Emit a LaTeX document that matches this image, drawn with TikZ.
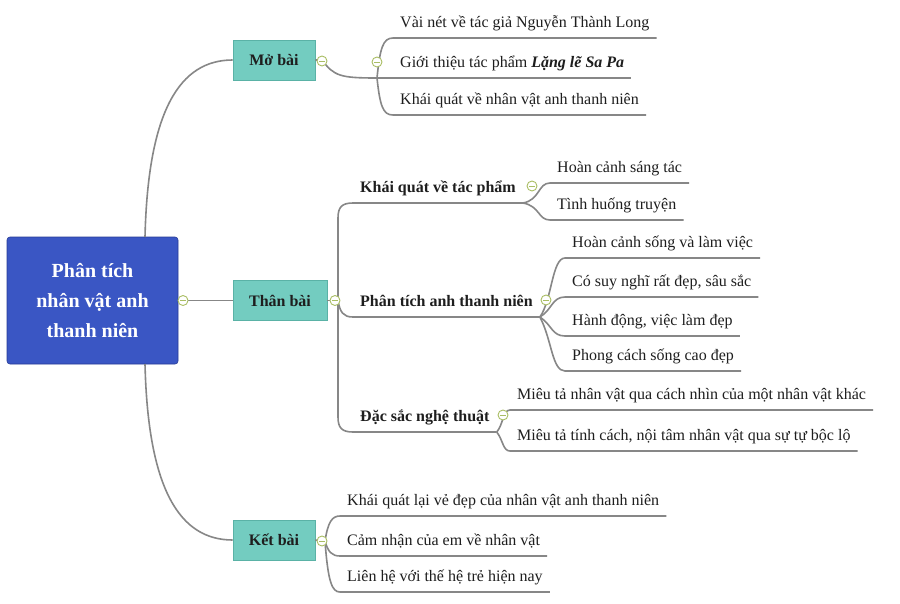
\documentclass[tikz,border=0pt]{standalone}
\usepackage{fontspec}
\setmainfont{Liberation Serif}
\definecolor{rootblue}{RGB}{58,86,196}
\definecolor{rootedge}{RGB}{40,60,150}
\definecolor{tealbox}{RGB}{115,204,192}
\definecolor{tealedge}{RGB}{90,178,166}
\definecolor{linegray}{RGB}{135,135,135}
\definecolor{mkgreen}{RGB}{170,190,100}
\definecolor{txt}{RGB}{30,30,30}
\begin{document}
\begin{tikzpicture}[x=1pt,y=-1pt,
  br/.style={draw=linegray, line width=1.6pt},
  leaf/.style={anchor=south west, text=txt, font=\fontsize{16}{18}\selectfont, inner xsep=7pt, inner ysep=6pt, text height=11pt, text depth=4pt},
  sub/.style={leaf, font=\fontsize{16}{18}\selectfont\bfseries},
  root/.style={fill=rootblue, draw=rootedge, line width=0.6pt, rounded corners=3pt, minimum width=171pt, minimum height=127pt, align=center, text=white, font=\fontsize{20}{30}\selectfont\bfseries},
  main/.style={fill=tealbox, draw=tealedge, line width=0.6pt, minimum height=40pt, text=txt, font=\fontsize{16}{19}\selectfont\bfseries},
  marker/.style={circle, draw=mkgreen, fill=white, line width=0.9pt, minimum size=10pt, inner sep=0pt,
    path picture={\draw[mkgreen, line width=0.9pt] ([xshift=-2.8pt]path picture bounding box.center) -- ([xshift=2.8pt]path picture bounding box.center);}}
]
\useasboundingbox (0,0) rectangle (900,603);
\fill[white] (0,0) rectangle (900,603);

% root
\node[root] (root) at (92.5,300.5) {Phân tích\\nhân vật anh\\thanh niên};
% main topics
\node[main, minimum width=82pt] (mo) at (274,60) {Mở bài};
\node[main, minimum width=94pt] (than) at (280,300.5) {Thân bài};
\node[main, minimum width=82pt] (ket) at (274,540) {Kết bài};

\coordinate (rt) at (145,237);
\coordinate (rb) at (145,364);
\draw[br] (rt) .. controls (148,110) and (180,60) .. (mo.west);
\draw[br] (rb) .. controls (148,490) and (180,540) .. (ket.west);
\draw[br] (root.east) -- (than.west);
\node[marker] (mk0) at (183,300.5) {};

% Mo bai children
\coordinate (j1) at (377,78);
\node[leaf] (m1) at (393,38) {Vài nét về tác giả Nguyễn Thành Long};
\node[leaf] (m2) at (393,78) {Giới thiệu tác phẩm \textbf{\textit{Lặng lẽ Sa Pa}}};
\node[leaf] (m3) at (393,115) {Khái quát về nhân vật anh thanh niên};
\draw[br] (mo.east) -- (322,60) .. controls (334,76) and (340,78) .. (j1);
\draw[br] (j1) .. controls (380,48) and (383,38) .. (m1.south west) -- (m1.south east);
\draw[br] (j1) -- (m2.south west) -- (m2.south east);
\draw[br] (j1) .. controls (380,106) and (383,115) .. (m3.south west) -- (m3.south east);
\node[marker] (mk1) at (322,61) {};
\node[marker] (mk2) at (377,62) {};

% Than bai children
\coordinate (j2) at (338,300.5);
\node[sub] (k) at (353,203) {Khái quát về tác phẩm};
\node[sub] (p) at (353,317) {Phân tích anh thanh niên};
\node[sub] (d) at (353,432) {Đặc sắc nghệ thuật};
\draw[br] (than.east) -- (j2);
\draw[br] (j2) -- (338,218) .. controls (338,207) and (342,203) .. (k.south west) -- (k.south east);
\draw[br] (j2) .. controls (340,312) and (343,317) .. (p.south west) -- (p.south east);
\draw[br] (j2) -- (338,417) .. controls (338,428) and (342,432) .. (d.south west) -- (d.south east);
\node[marker] (mk3) at (335,300.5) {};

% Khai quat children
\node[leaf] (k1) at (550,183) {Hoàn cảnh sáng tác};
\node[leaf] (k2) at (550,220) {Tình huống truyện};
\draw[br] (k.south east) .. controls (540,200) and (538,183) .. (k1.south west) -- (k1.south east);
\draw[br] (k.south east) .. controls (540,206) and (538,220) .. (k2.south west) -- (k2.south east);
\node[marker] (mk4) at (532,186) {};

% Phan tich children
\node[leaf] (p1) at (565,258) {Hoàn cảnh sống và làm việc};
\node[leaf] (p2) at (565,297) {Có suy nghĩ rất đẹp, sâu sắc};
\node[leaf] (p3) at (565,336) {Hành động, việc làm đẹp};
\node[leaf] (p4) at (565,371) {Phong cách sống cao đẹp};
\draw[br] (p.south east) .. controls (552,300) and (552,258) .. (p1.south west) -- (p1.south east);
\draw[br] (p.south east) .. controls (552,310) and (552,297) .. (p2.south west) -- (p2.south east);
\draw[br] (p.south east) .. controls (552,325) and (552,336) .. (p3.south west) -- (p3.south east);
\draw[br] (p.south east) .. controls (552,340) and (552,371) .. (p4.south west) -- (p4.south east);
\node[marker] (mk5) at (546,300) {};

% Dac sac children
\node[leaf] (d1) at (510,410) {Miêu tả nhân vật qua cách nhìn của một nhân vật khác};
\node[leaf] (d2) at (510,451) {Miêu tả tính cách, nội tâm nhân vật qua sự tự bộc lộ};
\draw[br] (d.south east) .. controls (503,425) and (503,410) .. (d1.south west) -- (d1.south east);
\draw[br] (d.south east) .. controls (503,440) and (503,451) .. (d2.south west) -- (d2.south east);
\node[marker] (mk6) at (503,415) {};

% Ket bai children
\coordinate (j3) at (325,541);
\node[leaf] (t1) at (340,516) {Khái quát lại vẻ đẹp của nhân vật anh thanh niên};
\node[leaf] (t2) at (340,556) {Cảm nhận của em về nhân vật};
\node[leaf] (t3) at (340,592) {Liên hệ với thế hệ trẻ hiện nay};
\draw[br] (ket.east) -- (j3);
\draw[br] (j3) .. controls (328,522) and (332,516) .. (t1.south west) -- (t1.south east);
\draw[br] (j3) .. controls (328,552) and (332,556) .. (t2.south west) -- (t2.south east);
\draw[br] (j3) .. controls (328,582) and (332,592) .. (t3.south west) -- (t3.south east);
\node[marker] (mk7) at (322,541) {};
\end{tikzpicture}
\end{document}
